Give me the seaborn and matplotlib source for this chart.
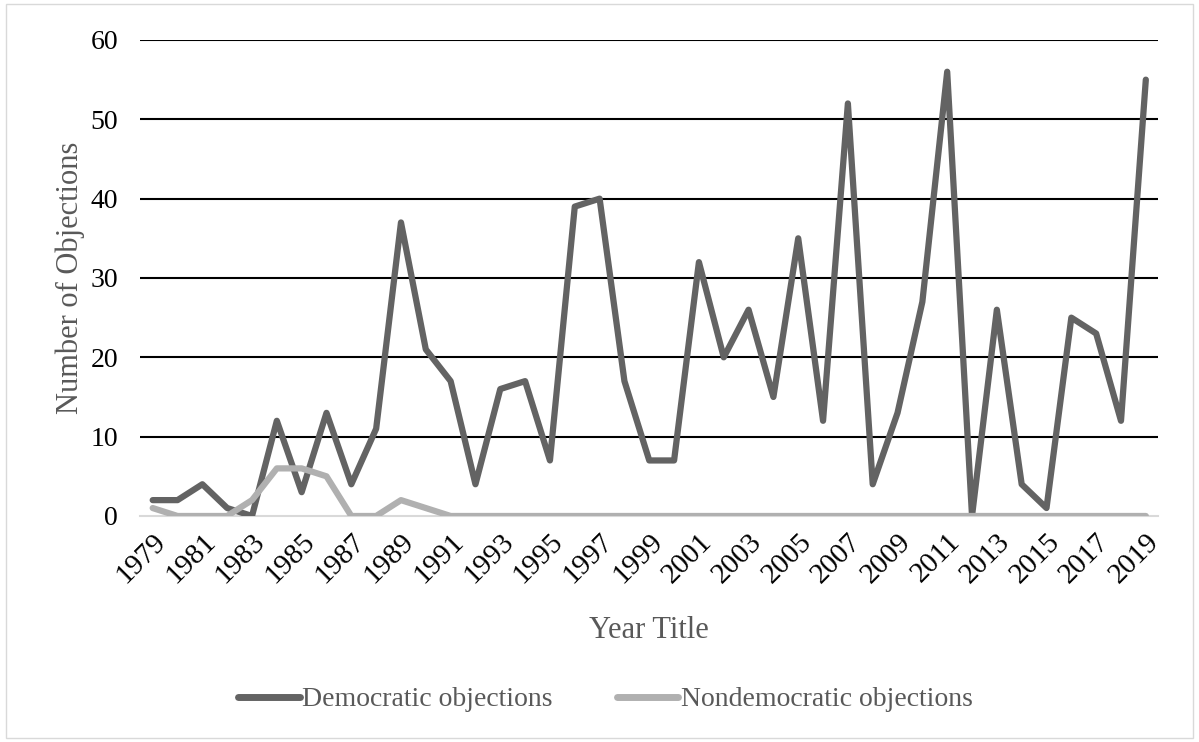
import pandas as pd
import matplotlib.pyplot as plt
import seaborn as sns

years = list(range(1979, 2020))
democratic = [2, 2, 4, 1, 0, 12, 3, 13, 4, 11, 37, 21, 17, 4, 16, 17, 7, 39, 40, 17,
              7, 7, 32, 20, 26, 15, 35, 12, 52, 4, 13, 27, 56, 0, 26, 4, 1, 25, 23, 12, 55]
nondemocratic = [1, 0, 0, 0, 2, 6, 6, 5, 0, 0, 2, 1, 0, 0, 0, 0, 0, 0, 0, 0,
                 0, 0, 0, 0, 0, 0, 0, 0, 0, 0, 0, 0, 0, 0, 0, 0, 0, 0, 0, 0, 0]
series_names = ["Democratic objections", "Nondemocratic objections"]
year_ticks = list(range(1979, 2020, 2))
y_ticks = [0, 10, 20, 30, 40, 50, 60]

df = pd.DataFrame({
    "year": years * 2,
    "count": democratic + nondemocratic,
    "series": [series_names[0]] * len(years) + [series_names[1]] * len(years),
})

sns.set_theme(style="white")
plt.rcParams['font.family'] = ['Liberation Serif', 'DejaVu Serif']

fig = plt.figure(figsize=(11.99, 7.42), dpi=100)
ax = fig.add_axes([0.117, 0.3046, 0.849, 0.6415])

# gridlines behind the data
for t in y_ticks[1:]:
    ax.axhline(t, color="black", lw=1.5, zorder=0)

sns.lineplot(data=df, x="year", y="count", hue="series",
             palette={series_names[0]: "#636363", series_names[1]: "#b0b0b0"},
             linewidth=4.5, ax=ax, legend=False, zorder=3)

ax.set_xlim(1978.5, 2019.5)
ax.set_ylim(0, 60)
ax.set_yticks(y_ticks)
ax.set_xticks(year_ticks)
ax.set_xticklabels([str(y) for y in year_ticks], rotation=45, ha="right",
                   rotation_mode="anchor", fontsize=21)
ax.tick_params(axis="y", labelsize=20, length=0, pad=16, labelcolor="black")
ax.tick_params(axis="x", length=0, pad=9, labelcolor="black")

for side in ["left", "right", "top"]:
    ax.spines[side].set_visible(False)
ax.spines["bottom"].set_color("#d9d9d9")
ax.spines["bottom"].set_linewidth(1.5)
ax.spines["bottom"].set_zorder(1)

ax.set_xlabel("Year Title", fontsize=22, color="#595959", labelpad=20)
ax.set_ylabel("Number of Objections", fontsize=22, color="#595959", labelpad=4)

handles = [plt.Line2D([], [], color="#636363", lw=5),
           plt.Line2D([], [], color="#b0b0b0", lw=5)]
fig.legend(handles, series_names, loc="center", bbox_to_anchor=(0.505, 0.057),
           ncol=2, frameon=False, fontsize=20, handlelength=2.2, columnspacing=2.3,
           labelcolor="#595959", handletextpad=0.1)

# chart area border
fig.patches.append(plt.Rectangle((0.005, 0.005), 0.99, 0.99, transform=fig.transFigure,
                                 fill=False, edgecolor="#d9d9d9", lw=1))

plt.savefig("out.png", dpi=100)
